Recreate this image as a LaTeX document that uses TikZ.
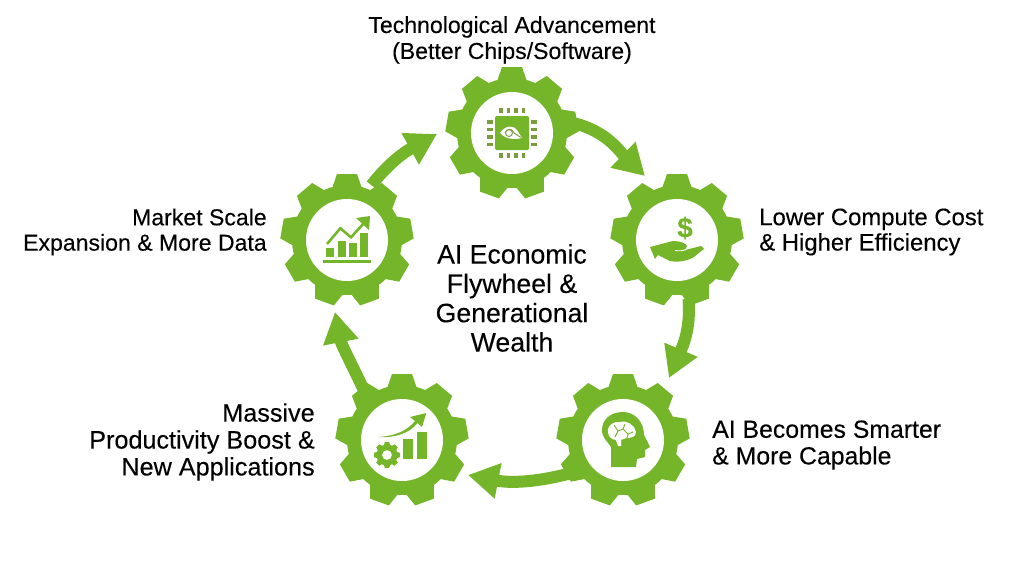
\documentclass[tikz,border=0pt]{standalone}
\usepackage{fontspec}
\setmainfont[FakeBold=0.2]{Liberation Sans}
\usetikzlibrary{arrows.meta}
\definecolor{gearGreen}{HTML}{74B52A}
\definecolor{pinGreen}{HTML}{7C9C40}
\tikzset{
    gearnode/.style={circle, minimum size=90pt, inner sep=0pt, outer sep=0pt},
    flow/.style={draw=gearGreen, line width=9pt, -{Triangle[width=25.5pt, length=23pt, color=gearGreen]}},
    label/.style={text=black, inner sep=0pt},
    title/.style={font=\fontsize{20pt}{22pt}\selectfont, text=black, inner sep=0pt, align=center},
    gearwheel/.pic={
        \fill[gearGreen] (0,0) circle (55);
        \foreach \a in {0,40,...,320}
            \fill[gearGreen, rotate=\a] (-14.5,-53) -- (-10,-66) -- (10,-66) -- (14.5,-53) -- cycle;
        \fill[white] (0,0) circle (41);
    },
    smallwheel/.pic={
        \foreach \a in {0,45,...,315}
            \fill[gearGreen, rotate=\a] (-3.2,-9) -- (-2.2,-13) -- (2.2,-13) -- (3.2,-9) -- cycle;
        \fill[gearGreen, even odd rule] (0,0) circle (10.5) (0,0) circle (5);
    }
}
\begin{document}
\begin{tikzpicture}[x=0.75pt, y=-0.75pt]
    \useasboundingbox (0,0) rectangle (1024,572);

    % gears
    \foreach \name/\x/\y in {tech/512/133, cost/677/240, smart/623/440, prod/402/440, market/347/240} {
        \node[gearnode] (\name) at (\x,\y) {};
    }

    % arrow tips
    \coordinate (costtip) at (645,176);
    \coordinate (smarttip) at (669,378);
    \coordinate (prodtip) at (468,475);
    \coordinate (markettip) at (335,312);
    \coordinate (techtip) at (437,134);

    % arrows
    \draw[flow] (tech.10) to[out=-12, in=136] (costtip);
    \draw[flow] (cost.-79) to[out=-85, in=67] (smarttip);
    \draw[flow] (smart.213) to[out=195, in=-11] (prodtip);
    \draw[flow] (prod.128) to[out=115, in=-79] (markettip);
    \draw[flow] (market.66) to[out=52, in=209] (techtip);

    \foreach \x/\y in {512/133, 677/240, 623/440, 402/440, 347/240} {
        \pic at (\x,\y) {gearwheel};
    }

    % chip
    \begin{scope}[shift={(512,133)}]
        \fill[gearGreen, rounded corners=1pt] (-17,-17) rectangle (17,17);
        \foreach \p in {-11,-3.5,4,11.5} {
            \fill[pinGreen] (\p-1.6,-25) rectangle (\p+1.6,-20);
            \fill[pinGreen] (\p-1.6,20) rectangle (\p+1.6,25);
            \fill[pinGreen] (-25,\p-1.6) rectangle (-19,\p+1.6);
            \fill[pinGreen] (19,\p-1.6) rectangle (25,\p+1.6);
        }
        \fill[white] (-12,0) .. controls (-7,-8) and (2,-8) .. (5,-3) -- (10,5) .. controls (2,7) and (-7,6) .. (-12,0) -- cycle;
        \draw[pinGreen, line width=0.7pt] (-3,0) circle (3.5);
        \draw[pinGreen, line width=0.7pt] (-7,0) .. controls (-5,-5) and (0,-5) .. (2,0) -- (9,4.5);
    \end{scope}

    % hand and dollar
    \node[font=\bfseries\fontsize{21pt}{21pt}\selectfont, text=gearGreen, inner sep=0pt] (dollar) at (685,228) {\$};
    \begin{scope}[shift={(677,240)}]
        \fill[gearGreen] (-27,7) -- (-4,1) .. controls (3,1) and (9,3) .. (10,6) -- (8,10) -- (24,6) -- (27,9)
            .. controls (20,14) and (17,18) .. (13,19) .. controls (5,22) and (-2,22) .. (-7,21) -- (-19,15) -- (-22,19) -- cycle;
        \draw[white, line width=0.7pt] (-2,10.5) .. controls (2,11) and (6,11) .. (9,9.5);
    \end{scope}

    % head with brain
    \begin{scope}[shift={(623,440)}]
        \fill[gearGreen] (0,-28) .. controls (-13,-28) and (-21,-20) .. (-21,-10) .. controls (-21,-2) and (-15,2) .. (-12,7)
            -- (-12,27) -- (13,27) -- (14,19) -- (22,17) -- (22,10) -- (27,7) -- (21,-5) .. controls (21,-18) and (12,-28) .. (0,-28) -- cycle;
        \fill[white] (-15,-8) .. controls (-16,-15) and (-9,-19) .. (-3,-18) .. controls (4,-20) and (12,-15) .. (13,-8)
            .. controls (13,-3) and (8,-2) .. (3,-2) .. controls (-2,1) and (-5,-1) .. (-6,0) .. controls (-11,0) and (-15,-3) .. (-15,-8) -- cycle;
        \fill[white] (-8,-2) -- (-2,-2) -- (-2,6) -- (-5,6) -- cycle;
        \draw[gearGreen, line width=0.7pt] (-9,-15) -- (-5,-9) -- (-8,-3) (-5,-9) -- (0,-11) -- (2,-16) (0,-11) -- (5,-6) -- (10,-8) (5,-6) -- (4,-2);
    \end{scope}

    % gear with rising bars
    \begin{scope}[shift={(402,440)}]
        \pic at (-15,15) {smallwheel};
        \fill[gearGreen] (1,-1) rectangle (10.7,19.3);
        \fill[gearGreen] (15,-8.3) rectangle (24.7,19.3);
        \fill[gearGreen] (-24,-3) .. controls (-6,-4) and (6,-10) .. (13,-19) -- (8,-23) -- (24.3,-27) -- (20,-13) -- (15.5,-17) .. controls (7,-6) and (-8,-2) .. (-24,-3) -- cycle;
    \end{scope}

    % growth chart
    \begin{scope}[shift={(347,240)}]
        \fill[gearGreen] (-24,20) rectangle (24,23);
        \fill[gearGreen] (-20.7,8.3) rectangle (-13.3,16.7);
        \fill[gearGreen] (-9,0.7) rectangle (-1,16.7);
        \fill[gearGreen] (2.3,3.3) rectangle (9.7,16.7);
        \fill[gearGreen] (13.3,-7.3) rectangle (20.7,16.7);
        \draw[gearGreen, line width=1.9pt] (-20,4) -- (-6.7,-11.7) -- (4,-2.7) -- (17,-17);
        \fill[gearGreen] (9,-22) -- (23,-24) -- (22,-10) -- cycle;
    \end{scope}

    % labels
    \node[label, font=\fontsize{17.3pt}{19.5pt}\selectfont, align=center] (techlabel) at (512,40) {Technological Advancement\\(Better Chips/Software)};
    \node[label, font=\fontsize{17.9pt}{19pt}\selectfont, align=left, anchor=west] (costlabel) at (759,232) {Lower Compute Cost\\\& Higher Efficiency};
    \node[label, font=\fontsize{18.6pt}{20pt}\selectfont, align=left, anchor=west] (smartlabel) at (712,445) {AI Becomes Smarter\\\& More Capable};
    \node[label, font=\fontsize{18.9pt}{20.2pt}\selectfont, align=right, anchor=east] (prodlabel) at (315,442) {Massive\\Productivity Boost \&\\New Applications};
    \node[label, font=\fontsize{17.3pt}{19pt}\selectfont, align=right, anchor=east] (marketlabel) at (267,232) {Market Scale\\Expansion \& More Data};
    \node[title] (flywheel) at (512,298) {AI Economic\\Flywheel \&\\Generational\\Wealth};
\end{tikzpicture}
\end{document}
